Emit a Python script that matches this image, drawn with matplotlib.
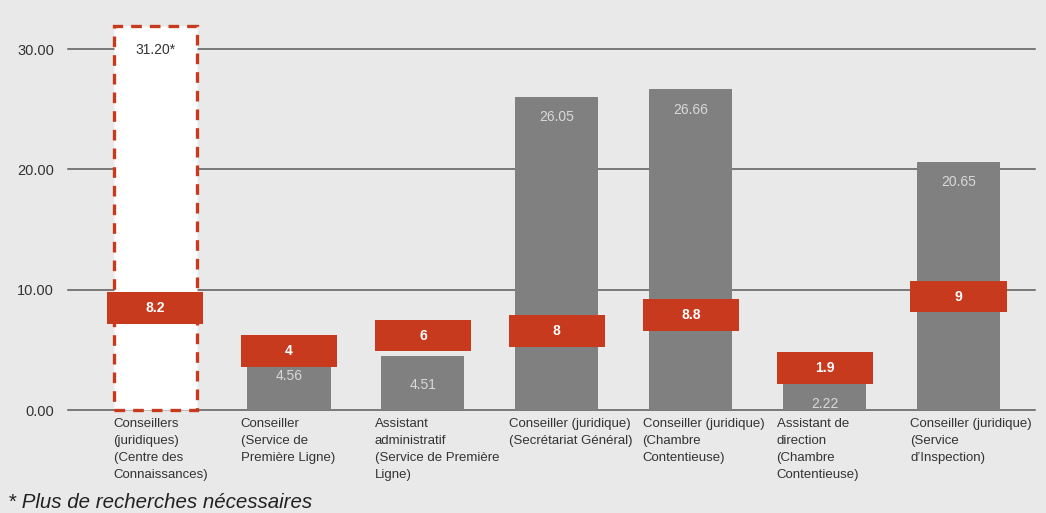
import matplotlib
matplotlib.use("Agg")
import matplotlib.pyplot as plt
import numpy as np

categories = [
    "Conseillers\n(juridiques)\n(Centre des\nConnaissances)",
    "Conseiller\n(Service de\nPremière Ligne)",
    "Assistant\nadministratif\n(Service de Première\nLigne)",
    "Conseiller (juridique)\n(Secrétariat Général)",
    "Conseiller (juridique)\n(Chambre\nContentieuse)",
    "Assistant de\ndirection\n(Chambre\nContentieuse)",
    "Conseiller (juridique)\n(Service\nd\u2019Inspection)",
]
bar_values = [31.9, 4.56, 4.51, 26.05, 26.66, 2.22, 20.65]
bar_labels = ["31.20*", "4.56", "4.51", "26.05", "26.66", "2.22", "20.65"]
red_labels = ["8.2", "4", "6", "8", "8.8", "1.9", "9"]
red_positions = [8.48, 4.9, 6.19, 6.57, 7.9, 3.49, 9.43]
y_ticks = [0, 10, 20, 30]
footnote = "* Plus de recherches nécessaires"

BG = "#e9e9e9"
GREY = "#808080"
RED = "#c83a1e"
TXT = "#333333"
FONT = "Liberation Sans"

fig = plt.figure(figsize=(10.46, 5.13), dpi=100, facecolor=BG)
ax = fig.add_axes([68 / 1046, 103 / 513, (1035 - 68) / 1046, 385 / 513])
ax.set_facecolor(BG)
ax.set_xlim(-0.65, 6.57)
ax.set_ylim(0, 32)

for t in y_ticks:
    ax.axhline(t, color="#5a5a5a", lw=1.1, zorder=1, clip_on=False)

x = np.arange(len(categories))
bw = 0.62

# dashed first bar, grey others
ax.bar(x[0], bar_values[0], width=bw, color="white", edgecolor=RED,
       linestyle=(0, (3.2, 2.4)), linewidth=2.4, zorder=2, clip_on=False)
ax.bar(x[1:], bar_values[1:], width=bw, color=GREY, zorder=2)

# value labels
for i, (v, lab) in enumerate(zip(bar_values, bar_labels)):
    off = -17 if i == 0 else (-21 if i == 2 else -15)
    ax.annotate(lab, (x[i], v), xytext=(0, off), textcoords="offset points",
                ha="center", va="center", fontsize=10, family=FONT,
                color=TXT if i == 0 else "#d9d9d9", zorder=3)

# red markers
bh = 2.62
rw = 0.72
ax.bar(x, [bh] * len(x), bottom=np.array(red_positions) - bh / 2, width=rw,
       color=RED, zorder=4)
for i, lab in enumerate(red_labels):
    ax.text(x[i], red_positions[i], lab, ha="center", va="center",
            fontsize=10, fontweight="bold", color="white", family=FONT, zorder=5)

ax.set_yticks(y_ticks)
ax.set_yticklabels([f"{t:.2f}" for t in y_ticks], fontsize=10.5, family=FONT, color=TXT)
ax.tick_params(axis="y", length=0, pad=10)
ax.set_xticks([])
for s in ax.spines.values():
    s.set_visible(False)

# category labels
for i, c in enumerate(categories):
    dx = -0.31 if i == 0 else -0.36
    ax.annotate(c, (x[i] + dx, 0), xytext=(0, -6), textcoords="offset points",
                ha="left", va="top", fontsize=9.5, family=FONT, color=TXT,
                linespacing=1.55, annotation_clip=False)

fig.text(8 / 1046, 1 - 503 / 513, footnote, fontsize=14.8, style="italic",
         family=FONT, color="#222222", ha="left", va="center")

fig.savefig("out.png", dpi=100, facecolor=BG)
